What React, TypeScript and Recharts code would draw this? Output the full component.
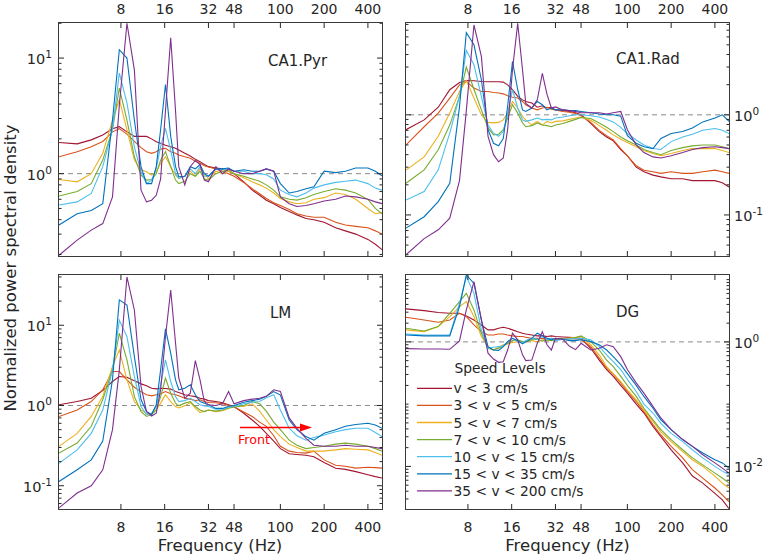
import React from "react";
import { LineChart, Line, XAxis, YAxis, ReferenceLine } from "recharts";

// frequency grid (Hz), shared by all four panels
const FREQ = [
  3, 4, 5, 6, 7, 7.8, 8.8,
  9.9, 11, 12, 13, 14, 15, 16.2, 17.6,
  19, 20, 22, 24, 26, 28, 30, 32,
  36, 40, 44, 48, 56, 64, 72, 80,
  90, 100, 115, 130, 150, 170, 200, 240, 280, 330, 400, 450, 500,
];

const SPEEDS = [
  "v < 3 cm/s",
  "3 < v < 5 cm/s",
  "5 < v < 7 cm/s",
  "7 < v < 10 cm/s",
  "10 < v < 15 cm/s",
  "15 < v < 35 cm/s",
  "35 < v < 200 cm/s",
];
const COLORS = ["#A2142F", "#D95319", "#EDB120", "#77AC30", "#4DBEEE", "#0072BD", "#7E2F8E"];
const X_TICKS = [8, 16, 32, 48, 100, 200, 400];

// one row per speed level, same order as SPEEDS
const CA1_PYR = [
  [1.86, 1.81, 1.96, 2.16, 2.45, 2.55, 2.3,
   2.1, 2.1, 2.1, 2.0, 1.89, 1.83, 1.76, 1.71,
   1.66, 1.6, 1.5, 1.42, 1.33, 1.27, 1.2, 1.15,
   1.12, 1.1, 1.05, 1.0, 0.85, 0.72, 0.65, 0.59,
   0.55, 0.51, 0.47, 0.44, 0.41, 0.4, 0.38, 0.34, 0.32, 0.3, 0.27, 0.245, 0.22],
  [1.4, 1.55, 1.71, 1.9, 2.3, 2.45, 2.2,
   1.9, 1.68, 1.55, 1.5, 1.55, 1.63, 1.66, 1.55,
   1.5, 1.45, 1.4, 1.36, 1.28, 1.23, 1.17, 1.14,
   1.1, 1.05, 1.0, 0.95, 0.84, 0.74, 0.67, 0.61,
   0.56, 0.53, 0.49, 0.45, 0.43, 0.42, 0.42, 0.38, 0.36, 0.35, 0.34, 0.32, 0.3],
  [0.89, 0.85, 1.0, 1.5, 2.9, 4.36, 2.4,
   1.31, 1.08, 1.04, 0.97, 1.04, 1.23, 1.4, 1.15,
   0.97, 0.91, 0.95, 1.05, 0.95, 1.1, 1.0, 0.9,
   1.05, 1.0, 1.05, 1.0, 0.92, 0.85, 0.8, 0.75,
   0.68, 0.61, 0.57, 0.55, 0.56, 0.6, 0.62, 0.68, 0.66, 0.6, 0.5, 0.45, 0.46],
  [0.64, 0.7, 0.82, 1.31, 2.4, 5.5, 2.9,
   1.4, 0.97, 0.88, 0.89, 1.0, 1.31, 1.55, 1.15,
   0.88, 0.82, 0.86, 1.0, 0.95, 1.05, 0.9, 0.88,
   1.0, 1.05, 1.08, 1.0, 0.95, 0.9, 0.86, 0.8,
   0.72, 0.63, 0.6, 0.59, 0.62, 0.66, 0.7, 0.74, 0.72, 0.68, 0.6, 0.5, 0.45],
  [0.535, 0.57, 0.675, 1.15, 2.4, 7.4, 4.1,
   1.7, 1.04, 0.82, 0.88, 1.11, 1.71, 2.47, 1.6,
   1.0, 0.91, 0.95, 1.1, 1.0, 1.15, 0.95, 0.95,
   1.1, 1.08, 1.1, 1.05, 1.05, 1.0, 1.0, 0.98,
   0.9, 0.72, 0.66, 0.63, 0.68, 0.75, 0.8, 0.84, 0.86, 0.88, 0.82, 0.75, 0.72],
  [0.36, 0.45, 0.48, 0.55, 2.9, 11.8, 10.0,
   2.9, 1.15, 0.82, 0.82, 1.15, 2.4, 5.9, 2.1,
   1.15, 0.94, 0.95, 1.15, 1.1, 1.2, 1.0, 0.95,
   1.1, 1.1, 1.12, 1.05, 1.08, 1.05, 1.05, 1.1,
   1.05, 0.82, 0.68, 0.7, 0.74, 0.77, 1.05, 1.02, 1.05, 1.12, 1.12, 1.05, 0.96],
  [0.197, 0.266, 0.325, 0.37, 0.63, 3.9, 20,
   7.9, 0.72, 0.57, 0.59, 0.65, 0.9, 3.5, 15,
   3.5, 1.15, 0.8, 1.15, 1.3, 1.2, 0.88, 0.85,
   1.15, 1.0, 1.1, 1.05, 1.0, 1.0, 1.05, 1.1,
   1.05, 0.63, 0.55, 0.52, 0.53, 0.55, 0.58, 0.6, 0.64, 0.63, 0.6, 0.57, 0.55],
];

const CA1_RAD = [
  [0.71, 0.89, 1.19, 1.78, 2.1, 2.2, 2.19,
   2.15, 2.14, 2.14, 2.14, 2.12, 1.99, 1.78, 1.53,
   1.41, 1.36, 1.31, 1.19, 1.23, 1.17, 1.19, 1.12,
   1.1, 1.08, 1.05, 1.0, 0.82, 0.68, 0.6, 0.55,
   0.45, 0.39, 0.3, 0.27, 0.25, 0.24, 0.23, 0.23, 0.22, 0.22, 0.22, 0.21, 0.19],
  [0.5, 0.76, 1.04, 1.47, 1.99, 2.15, 1.85,
   1.71, 1.71, 1.67, 1.65, 1.62, 1.55, 1.5, 1.47,
   1.36, 1.26, 1.17, 1.12, 1.17, 1.19, 1.14, 1.12,
   1.08, 1.06, 1.03, 0.98, 0.84, 0.7, 0.62, 0.56,
   0.46, 0.39, 0.31, 0.28, 0.27, 0.26, 0.27, 0.26, 0.26, 0.27, 0.28, 0.27, 0.26],
  [0.28, 0.38, 0.61, 1.04, 1.71, 2.2, 1.47,
   1.0, 0.84, 0.83, 0.84, 0.89, 1.04, 1.36, 1.17,
   0.96, 0.89, 0.79, 0.86, 0.79, 0.86, 0.83, 0.86,
   0.87, 0.9, 0.93, 0.95, 0.88, 0.78, 0.7, 0.63,
   0.57, 0.53, 0.48, 0.44, 0.41, 0.39, 0.41, 0.44, 0.46, 0.46, 0.46, 0.44, 0.42],
  [0.207, 0.282, 0.447, 0.79, 1.53, 3.0, 1.8,
   1.12, 0.74, 0.63, 0.64, 0.71, 0.93, 1.26, 1.04,
   0.83, 0.76, 0.78, 0.83, 0.79, 0.78, 0.76, 0.79,
   0.82, 0.86, 0.9, 0.94, 0.92, 0.83, 0.75, 0.68,
   0.6, 0.55, 0.5, 0.45, 0.42, 0.4, 0.44, 0.47, 0.49, 0.5, 0.5, 0.48, 0.46],
  [0.141, 0.171, 0.282, 0.655, 1.53, 4.4, 3.16,
   1.53, 0.79, 0.655, 0.61, 0.68, 1.0, 1.78, 1.17,
   0.89, 0.86, 0.89, 0.93, 0.89, 0.9, 0.89, 0.93,
   0.95, 0.98, 1.0, 1.0, 0.98, 0.95, 0.9, 0.85,
   0.75, 0.65, 0.56, 0.5, 0.46, 0.45, 0.54, 0.6, 0.64, 0.7, 0.73, 0.7, 0.65],
  [0.074, 0.096, 0.136, 0.207, 1.2, 6.6, 5.0,
   2.24, 0.71, 0.52, 0.49, 0.58, 1.21, 3.41, 1.78,
   1.12, 1.08, 1.17, 1.36, 1.26, 1.12, 1.17, 1.12,
   1.12, 1.1, 1.1, 1.08, 1.05, 1.02, 1.0, 1.0,
   0.97, 0.62, 0.52, 0.48, 0.46, 0.58, 0.65, 0.68, 0.74, 0.85, 0.93, 1.0, 0.86],
  [0.04, 0.058, 0.071, 0.093, 0.22, 1.1, 7.9,
   3.83, 0.61, 0.4, 0.34, 0.37, 0.71, 2.82, 8.2,
   2.8, 1.3, 1.17, 1.41, 2.6, 1.6, 1.17, 1.2,
   1.12, 1.1, 1.08, 1.05, 1.05, 1.05, 1.02, 1.05,
   1.08, 0.71, 0.5, 0.42, 0.38, 0.37, 0.39, 0.42, 0.45, 0.47, 0.48, 0.47, 0.46],
];

const LM = [
  [1.02, 1.12, 1.23, 1.54, 1.99, 2.3, 2.25,
   2.03, 1.86, 1.76, 1.64, 1.61, 1.64, 1.63, 1.6,
   1.49, 1.45, 1.36, 1.32, 1.29, 1.23, 1.2, 1.15,
   1.12, 1.08, 1.02, 0.97, 0.8, 0.66, 0.55, 0.45,
   0.36, 0.29, 0.25, 0.245, 0.24, 0.23, 0.195, 0.165, 0.16, 0.15, 0.137, 0.13, 0.125],
  [0.73, 0.88, 1.12, 1.57, 2.65, 2.65, 2.09,
   1.69, 1.49, 1.36, 1.32, 1.36, 1.4, 1.49, 1.4,
   1.36, 1.32, 1.23, 1.2, 1.15, 1.18, 1.12, 1.09,
   1.08, 1.05, 1.0, 0.96, 0.83, 0.73, 0.62, 0.55,
   0.42, 0.31, 0.27, 0.26, 0.255, 0.27, 0.21, 0.18, 0.175, 0.166, 0.17, 0.168, 0.166],
  [0.31, 0.45, 0.73, 1.3, 3.06, 4.93, 2.09,
   1.12, 0.88, 0.79, 0.8, 0.88, 1.07, 1.36, 1.12,
   0.97, 0.93, 0.99, 1.09, 0.93, 0.82, 0.84, 0.88,
   0.84, 0.86, 0.92, 1.0, 0.97, 1.05, 0.85, 0.66,
   0.5, 0.41, 0.33, 0.3, 0.27, 0.27, 0.27, 0.28, 0.29, 0.285, 0.28, 0.26, 0.24],
  [0.255, 0.34, 0.55, 1.18, 2.78, 7.95, 3.7,
   1.29, 0.84, 0.73, 0.77, 0.88, 1.29, 2.19, 1.42,
   1.07, 0.99, 1.07, 1.12, 0.97, 0.88, 0.84, 0.88,
   0.85, 0.88, 0.93, 0.95, 1.0, 1.12, 1.05, 0.85,
   0.62, 0.5, 0.37, 0.32, 0.29, 0.3, 0.31, 0.33, 0.34, 0.33, 0.31, 0.29, 0.27],
  [0.19, 0.28, 0.45, 0.88, 2.78, 11.6, 7.2,
   2.3, 0.97, 0.77, 0.8, 0.97, 1.81, 3.7, 1.99,
   1.29, 1.12, 1.15, 1.23, 1.12, 1.02, 0.99, 0.97,
   0.9, 0.9, 0.95, 0.97, 1.05, 1.1, 1.12, 1.25,
   1.36, 0.88, 0.52, 0.42, 0.37, 0.4, 0.43, 0.47, 0.5, 0.52, 0.52, 0.46, 0.41],
  [0.113, 0.158, 0.21, 0.36, 2.1, 20.7, 17.9,
   4.07, 1.18, 0.84, 0.77, 1.02, 2.78, 9.0, 4.5,
   2.09, 1.57, 1.64, 1.81, 1.36, 1.12, 1.07, 1.02,
   0.92, 0.92, 0.98, 1.0, 1.1, 1.15, 1.2, 1.3,
   1.49, 1.35, 0.66, 0.5, 0.41, 0.37, 0.45, 0.5, 0.55, 0.58, 0.6, 0.57, 0.52],
  [0.053, 0.081, 0.1, 0.158, 0.5, 2.78, 40,
   15.5, 1.72, 0.84, 0.74, 0.8, 1.57, 7.2, 27.5,
   6.0, 2.2, 1.23, 1.42, 3.63, 2.09, 1.12, 1.02,
   1.0, 1.05, 1.49, 1.05, 1.15, 1.2, 1.23, 1.3,
   1.57, 1.5, 0.7, 0.52, 0.39, 0.32, 0.31, 0.31, 0.32, 0.31, 0.31, 0.3, 0.29],
];

const DG = [
  [3.39, 3.18, 2.96, 2.88, 2.88, 2.61, 2.25,
   1.87, 1.56, 1.56, 1.66, 1.72, 1.66, 1.56, 1.46,
   1.38, 1.34, 1.29, 1.25, 1.25, 1.22, 1.25, 1.22,
   1.2, 1.18, 1.16, 1.14, 0.79, 0.51, 0.36, 0.28,
   0.2, 0.15, 0.1, 0.072, 0.044, 0.03, 0.0185, 0.0114, 0.007, 0.0054, 0.0037, 0.0029, 0.0021],
  [2.49, 2.25, 2.07, 2.25, 2.88, 2.55, 1.87,
   1.46, 1.29, 1.29, 1.34, 1.34, 1.29, 1.25, 1.22,
   1.22, 1.19, 1.14, 1.14, 1.14, 1.1, 1.14, 1.1,
   1.12, 1.14, 1.12, 1.1, 0.84, 0.55, 0.38, 0.3,
   0.22, 0.16, 0.11, 0.076, 0.047, 0.032, 0.021, 0.0137, 0.0089, 0.0065, 0.0045, 0.0035, 0.0027],
  [1.56, 1.46, 1.76, 2.55, 3.69, 4.43, 2.55,
   1.22, 0.84, 0.74, 0.82, 0.9, 0.93, 0.98, 1.01,
   0.98, 1.0, 1.05, 1.0, 1.08, 1.05, 1.08, 1.1,
   1.12, 1.15, 1.18, 1.22, 0.9, 0.62, 0.4, 0.31,
   0.23, 0.17, 0.117, 0.081, 0.053, 0.036, 0.025, 0.0173, 0.0128, 0.01, 0.007, 0.0054, 0.0045],
  [1.66, 1.5, 1.76, 2.88, 4.43, 6.03, 3.26,
   1.38, 0.79, 0.74, 0.79, 0.86, 0.95, 1.05, 1.08,
   1.01, 1.01, 1.08, 1.1, 1.03, 1.08, 1.05, 1.08,
   1.1, 1.12, 1.18, 1.25, 1.01, 0.74, 0.51, 0.4,
   0.28, 0.2, 0.133, 0.086, 0.056, 0.039, 0.027, 0.0185, 0.0137, 0.0106, 0.0078, 0.0065, 0.0054],
  [1.34, 1.29, 1.29, 1.29, 4.17, 11.2, 6.03,
   1.56, 0.79, 0.82, 0.84, 0.86, 1.01, 1.14, 1.01,
   0.97, 1.05, 1.14, 1.1, 1.22, 1.08, 1.14, 1.05,
   1.1, 1.12, 1.12, 1.14, 1.08, 0.84, 0.62, 0.48,
   0.36, 0.25, 0.16, 0.1, 0.072, 0.049, 0.034, 0.025, 0.0185, 0.0137, 0.01, 0.0084, 0.0074],
  [1.29, 1.25, 1.25, 1.25, 3.69, 11.9, 8.7,
   2.25, 0.84, 0.74, 0.73, 0.84, 1.01, 1.14, 1.05,
   0.93, 1.0, 1.14, 1.38, 1.25, 1.14, 1.08, 1.14,
   1.1, 1.05, 1.05, 1.08, 1.01, 0.9, 0.74, 0.58,
   0.43, 0.31, 0.2, 0.133, 0.086, 0.056, 0.039, 0.027, 0.021, 0.0164, 0.0128, 0.0114, 0.0094],
  [0.78, 0.77, 0.77, 0.76, 1.04, 3.26, 9.3,
   2.25, 0.66, 0.53, 0.47, 0.48, 0.74, 1.38, 1.08,
   0.62, 0.5, 0.51, 0.95, 1.46, 0.9, 0.74, 1.14,
   1.1, 0.85, 0.75, 0.95, 0.74, 0.79, 0.9, 0.84,
   0.58, 0.36, 0.22, 0.15, 0.092, 0.06, 0.039, 0.027, 0.021, 0.0154, 0.0114, 0.0094, 0.0078],
];

const FONT = "'DejaVu Sans', sans-serif";
const INK = "#262626";
const W = 767;
const H = 556;

const PANELS = [
  { name: "CA1.Pyr", data: CA1_PYR, x: 59, y: 23, w: 323, h: 233, yDomain: [0.194, 20.1], yLabels: [1, 10], ySide: "left", xSide: "top", tx: 268, ty: 65.5 },
  { name: "CA1.Rad", data: CA1_RAD, x: 406, y: 23, w: 323, h: 233, yDomain: [0.0389, 8.26], yLabels: [0.1, 1], ySide: "right", xSide: "top", tx: 616, ty: 64 },
  { name: "LM", data: LM, x: 59, y: 275, w: 323, h: 234, yDomain: [0.0513, 42.3], yLabels: [0.1, 1, 10], ySide: "left", xSide: "bottom", tx: 270, ty: 318 },
  { name: "DG", data: DG, x: 406, y: 275, w: 323, h: 234, yDomain: [0.00207, 11.87], yLabels: [0.01, 1], ySide: "right", xSide: "bottom", tx: 616, ty: 317 },
];

// 1..9 x 10^e ticks that fall inside the axis range
function logTicks(lo: number, hi: number) {
  const out: number[] = [];
  for (let e = -4; e <= 2; e++) {
    for (let m = 1; m <= 9; m++) {
      const v = +(m * Math.pow(10, e)).toPrecision(2);
      if (v >= lo && v <= hi) out.push(v);
    }
  }
  return out;
}

function XTick(props: any) {
  const { x, y, payload, side, plotH } = props;
  const dir = side === "top" ? 1 : -1;
  const yo = y + dir * plotH;
  return (
    <g>
      <line x1={x} x2={x} y1={y} y2={y + dir * 5} stroke={INK} />
      <line x1={x} x2={x} y1={yo} y2={yo - dir * 5} stroke={INK} />
      <text x={x} y={side === "top" ? y - 9.5 : y + 22.5} textAnchor="middle" fontSize={14} fill={INK} fontFamily={FONT}>
        {payload.value}
      </text>
    </g>
  );
}

function YTick(props: any) {
  const { x, y, payload, side, plotW, labels } = props;
  const v = payload.value;
  const major = labels.some((l: number) => Math.abs(v / l - 1) < 1e-6);
  const len = major ? 5 : 2.5;
  const dir = side === "left" ? 1 : -1;
  const xo = x + dir * plotW;
  const e = Math.round(Math.log10(v));
  return (
    <g>
      <line x1={x} x2={x + dir * len} y1={y} y2={y} stroke={INK} />
      <line x1={xo} x2={xo - dir * len} y1={y} y2={y} stroke={INK} />
      {major && (
        <text x={side === "left" ? x - 7 : x + 5} y={y + 6} textAnchor={side === "left" ? "end" : "start"} fontSize={14.5} fill={INK} fontFamily={FONT}>
          10<tspan dy={-6} fontSize={10.5}>{e}</tspan>
        </text>
      )}
    </g>
  );
}

function Panel({ p }: any) {
  const axW = 38;
  const axTop = 23;
  const axBot = 40;
  const left = p.ySide === "left" ? p.x - axW : p.x;
  const top = p.xSide === "top" ? p.y - axTop : p.y;
  const xh = p.xSide === "top" ? axTop : axBot;
  const rows = FREQ.map((f, i) => {
    const r: any = { f };
    p.data.forEach((s: number[], k: number) => (r["s" + k] = s[i]));
    return r;
  });
  return (
    <div style={{ position: "absolute", left, top }}>
      <LineChart width={p.w + axW} height={p.h + xh} data={rows} margin={{ top: 0, right: 0, bottom: 0, left: 0 }}>
        <XAxis
          dataKey="f"
          type="number"
          scale="log"
          domain={[3, 500]}
          allowDataOverflow
          ticks={X_TICKS}
          interval={0}
          orientation={p.xSide}
          height={xh}
          axisLine={false}
          tickLine={false}
          tickSize={0}
          tickMargin={0}
          tick={<XTick side={p.xSide} plotH={p.h} />}
        />
        <YAxis
          type="number"
          scale="log"
          domain={p.yDomain}
          allowDataOverflow
          ticks={logTicks(p.yDomain[0], p.yDomain[1])}
          interval={0}
          orientation={p.ySide}
          width={axW}
          axisLine={false}
          tickLine={false}
          tickSize={0}
          tickMargin={0}
          tick={<YTick side={p.ySide} plotW={p.w} labels={p.yLabels} />}
        />
        <ReferenceLine y={1} stroke="#8a8a8a" strokeDasharray="5 4" />
        {p.data.map((_: number[], k: number) => (
          <Line
            key={k}
            dataKey={"s" + k}
            type="linear"
            stroke={COLORS[k]}
            strokeWidth={1.1}
            dot={false}
            activeDot={false}
            isAnimationActive={false}
          />
        ))}
      </LineChart>
    </div>
  );
}

export default function App() {
  return (
    <div style={{ position: "absolute", left: 0, top: 0, width: W, height: H, background: "#fff", overflow: "hidden", fontFamily: FONT }}>
      {PANELS.map((p) => (
        <Panel key={p.name} p={p} />
      ))}
      <svg width={W} height={H} style={{ position: "absolute", left: 0, top: 0, pointerEvents: "none" }} fontFamily={FONT}>
        {PANELS.map((p) => (
          <g key={p.name}>
            <rect x={p.x - 0.5} y={p.y - 0.5} width={p.w + 1} height={p.h + 1} fill="none" stroke="#3a3a3a" />
            <text x={p.tx} y={p.ty} fontSize={15} fill={INK}>{p.name}</text>
          </g>
        ))}
        <text transform="translate(15.5,268) rotate(-90)" textAnchor="middle" fontSize={16.5} fill={INK}>
          Normalized power spectral density
        </text>
        <text x={220} y={551} textAnchor="middle" fontSize={16.5} fill={INK}>Frequency (Hz)</text>
        <text x={567.5} y={551} textAnchor="middle" fontSize={16.5} fill={INK}>Frequency (Hz)</text>

        {/* Front annotation in LM */}
        <line x1={240} y1={427.5} x2={302} y2={427.5} stroke="#ff0000" strokeWidth={1.5} />
        <polygon points="300,423.5 312,427.5 300,431.5" fill="#ff0000" />
        <text x={238} y={444} fontSize={12.7} fill="#ff0000">Front</text>

        {/* legend in DG */}
        <text x={500} y={373} textAnchor="middle" fontSize={13.8} fill={INK}>Speed Levels</text>
        {SPEEDS.map((s, i) => {
          const yy = 388.3 + 17.1 * i;
          return (
            <g key={s}>
              <line x1={417} x2={452} y1={yy} y2={yy} stroke={COLORS[i]} strokeWidth={1.3} />
              <text x={453.5} y={yy + 5} fontSize={13.8} fill={INK}>{s}</text>
            </g>
          );
        })}
      </svg>
    </div>
  );
}
